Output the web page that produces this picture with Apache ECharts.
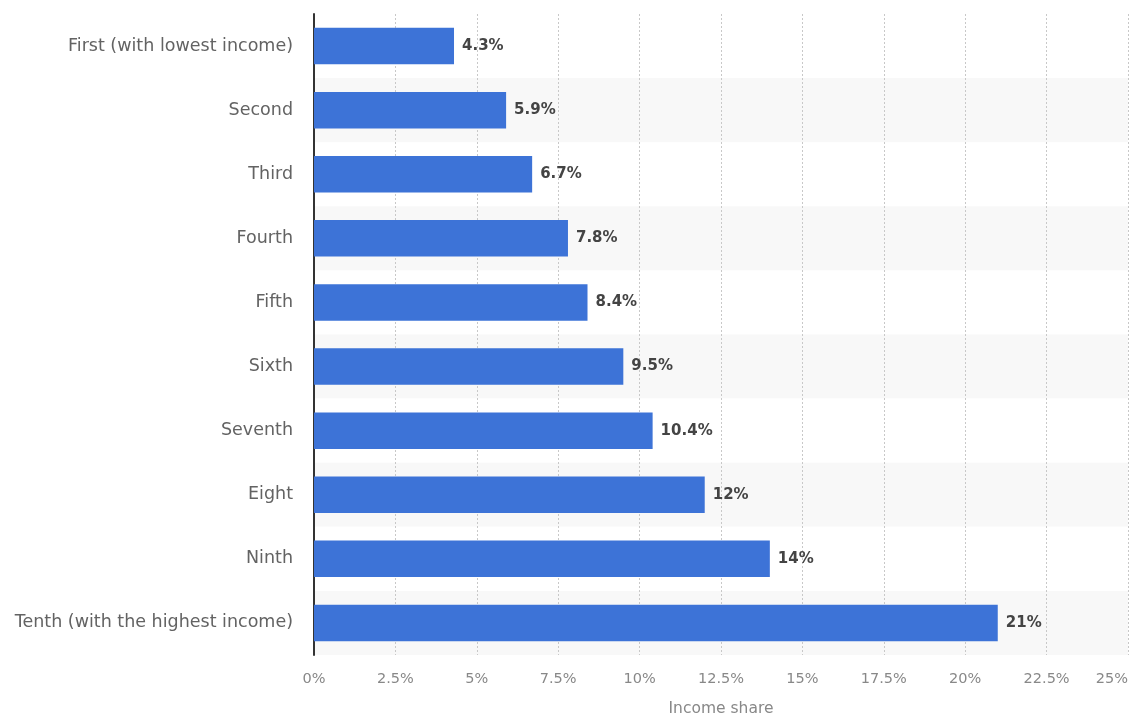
<!DOCTYPE html>
<html>
<head>
<meta charset="utf-8">
<script src="https://cdn.jsdelivr.net/npm/echarts@6/dist/echarts.min.js"></script>
<style>
  html, body { margin: 0; padding: 0; background: #fff; }
  #chart { width: 1138px; height: 716px; }
</style>
</head>
<body>
<div id="chart"></div>
<script>
// Income share by decile
const categories = [
  'First (with lowest income)', 'Second', 'Third', 'Fourth', 'Fifth',
  'Sixth', 'Seventh', 'Eight', 'Ninth', 'Tenth (with the highest income)'
];
const shares = [4.3, 5.9, 6.7, 7.8, 8.4, 9.5, 10.4, 12, 14, 21];
const axisTitle = 'Income share';

const FONT = 'DejaVu Sans';
const chart = echarts.init(document.getElementById('chart'));
chart.setOption({
  animation: false,
  grid: { left: 314, right: 10, top: 14, bottom: 61, containLabel: false, outerBoundsMode: 'none' },
  xAxis: {
    type: 'value',
    min: 0, max: 25, interval: 2.5,
    name: axisTitle,
    nameLocation: 'middle',
    nameGap: 46,
    nameTextStyle: { color: '#888', fontSize: 15.5, fontFamily: FONT },
    axisLine: { show: false },
    axisTick: { show: false },
    axisLabel: {
      color: '#888', fontSize: 14.5, fontFamily: FONT, margin: 17,
      alignMaxLabel: 'right',
      formatter: v => v + '%'
    },
    splitLine: { show: true, lineStyle: { color: '#c8c8c8', type: [2, 2], width: 1 } }
  },
  yAxis: {
    type: 'category',
    data: categories,
    inverse: true,
    axisLine: { show: true, lineStyle: { color: '#333', width: 2 } },
    axisTick: { show: false },
    axisLabel: { color: '#636363', fontSize: 17.5, fontFamily: FONT, margin: 21 },
    splitArea: { show: true, areaStyle: { color: ['#ffffff', '#f8f8f8'] } }
  },
  series: [{
    type: 'bar',
    data: shares,
    barWidth: '57%',
    itemStyle: { color: '#3d73d7' },
    label: {
      show: true,
      position: 'right',
      distance: 8,
      color: '#444',
      fontSize: 15,
      fontWeight: 'bold',
      fontFamily: FONT,
      formatter: p => p.value + '%'
    }
  }]
});
</script>
</body>
</html>
